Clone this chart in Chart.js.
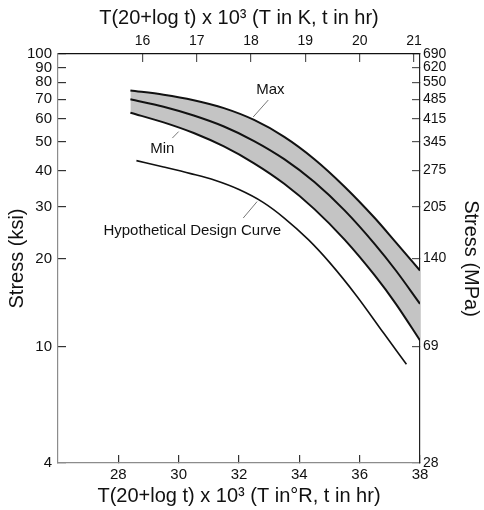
<!DOCTYPE html>
<html>
<head>
<meta charset="utf-8">
<script src="https://cdn.jsdelivr.net/npm/chart.js@4.4.1/dist/chart.umd.min.js"></script>
<style>
  html, body { margin: 0; padding: 0; background: #fff; }
  #wrap { width: 484px; height: 510px; }
</style>
</head>
<body>
<div id="wrap"><canvas id="chart" width="484" height="510"></canvas></div>
<script>
// Larson-Miller parameter, T(20+log t) x 10^3, T in deg R
const bandX = [28.4, 29.5, 30.5, 31.5, 32.5, 33.5, 34.5, 35.5, 36.5, 37.2, 38];
const maxKsi = [75, 72.6, 69.5, 65.3, 59.5, 52.1, 43.7, 35.2, 27.5, 22.7, 18.2];
const midKsi = [70, 66, 61.6, 56.5, 50.4, 43.7, 36.5, 29.2, 22.4, 18.2, 14.0];
const minKsi = [63, 58.4, 53.7, 48.3, 42.3, 36.0, 29.5, 23.2, 17.5, 14.0, 10.5];

const designX = [28.6, 29.5, 30.4, 31.2, 32.0, 32.8, 33.5, 34.3, 35.0, 35.9, 36.8, 37.55];
const designKsi = [43.2, 41.1, 39.0, 37.0, 34.4, 31.1, 27.5, 23.2, 19.4, 14.9, 11.1, 8.7];

const bottomTicks = [28, 30, 32, 34, 36, 38];
const topTicks = [16, 17, 18, 19, 20, 21];
const ksiTicks = [4, 10, 20, 30, 40, 50, 60, 70, 80, 90, 100];
const mpaLabels = ['28', '69', '140', '205', '275', '345', '415', '485', '550', '620', '690'];

// callout labels and their leader lines, in data units
const notes = [
  {text: 'Max', x: 33.04, y: 75.3},
  {text: 'Min', x: 29.46, y: 47.3},
  {text: 'Hypothetical Design Curve', x: 30.45, y: 24.8}
];
const leaders = [
  [[32.97, 69.6], [32.47, 60.9]],
  [[29.79, 51.6], [30.0, 54.3]],
  [[32.14, 27.5], [32.6, 31.3]]
];

const FONT = "'Liberation Sans', Arial, sans-serif";
const pts = (xs, ys) => xs.map((x, i) => ({x: x, y: ys[i]}));

const curve = (data, extra) => Object.assign({
  data: data,
  showLine: true,
  borderColor: '#111',
  borderWidth: 2,
  pointRadius: 0,
  cubicInterpolationMode: 'monotone',
  fill: false
}, extra);

const datasets = [
  curve(pts(bandX, maxKsi)),
  curve(pts(bandX, minKsi), {fill: '-1', backgroundColor: '#c4c4c4'}),
  curve(pts(bandX, midKsi)),
  curve(pts(designX, designKsi), {borderWidth: 1.6})
];
leaders.forEach(l => {
  datasets.push({
    data: l.map(p => ({x: p[0], y: p[1]})),
    showLine: true,
    borderColor: '#777',
    borderWidth: 1,
    pointRadius: 0,
    fill: false
  });
});

const notesPlugin = {
  id: 'notes',
  afterDatasetsDraw(chart) {
    const {ctx, scales} = chart;
    ctx.save();
    ctx.font = '15px ' + FONT;
    ctx.fillStyle = '#111';
    ctx.textAlign = 'center';
    ctx.textBaseline = 'middle';
    notes.forEach(n => {
      ctx.fillText(n.text, scales.x.getPixelForValue(n.x), scales.y.getPixelForValue(n.y));
    });
    ctx.restore();
  }
};

const setTicks = vals => scale => { scale.ticks = vals.map(v => ({value: v})); };
const inTicks = color => ({drawOnChartArea: false, drawTicks: true, tickLength: -8, color: color, lineWidth: 1.2});

new Chart(document.getElementById('chart').getContext('2d'), {
  type: 'scatter',
  data: {datasets: datasets},
  plugins: [notesPlugin],
  options: {
    responsive: false,
    animation: false,
    layout: {padding: 0},
    plugins: {
      legend: {display: false},
      tooltip: {enabled: false},
      filler: {drawTime: 'beforeDatasetsDraw'}
    },
    scales: {
      x: {
        type: 'linear',
        position: 'bottom',
        min: 26,
        max: 38,
        afterBuildTicks: setTicks(bottomTicks),
        afterFit: s => { s.height = 47; },
        grid: inTicks('#333'),
        border: {color: '#8c8c8c', width: 1.2},
        ticks: {color: '#111', font: {family: FONT, size: 15}, padding: 11, maxRotation: 0},
        title: {display: true, text: 'T(20+log t) x 10\u00b3 (T in\u00b0R, t in hr)', color: '#111',
                font: {family: FONT, size: 20}, padding: {top: 0, bottom: 2}}
      },
      xTop: {
        type: 'linear',
        position: 'top',
        min: 26 / 1.8,
        max: 38 / 1.8,
        afterBuildTicks: setTicks(topTicks),
        afterFit: s => { s.height = 54; },
        grid: inTicks('#555'),
        border: {color: '#111', width: 1.2},
        ticks: {color: '#111', font: {family: FONT, size: 14}, padding: 12, maxRotation: 0},
        title: {display: true, text: 'T(20+log t) x 10\u00b3 (T in K, t in hr)', color: '#111',
                font: {family: FONT, size: 20}, padding: {top: 6, bottom: 0}}
      },
      y: {
        type: 'logarithmic',
        position: 'left',
        min: 4,
        max: 100,
        afterBuildTicks: setTicks(ksiTicks),
        afterFit: s => { s.width = 58; },
        grid: inTicks('#333'),
        border: {color: '#8c8c8c', width: 1.2},
        ticks: {color: '#111', font: {family: FONT, size: 15}, padding: 14, callback: v => String(v)},
        title: {display: true, text: 'Stress (ksi)', color: '#111',
                font: {family: FONT, size: 20}, padding: {top: 5, bottom: 0}}
      },
      yRight: {
        type: 'logarithmic',
        position: 'right',
        min: 4,
        max: 100,
        afterBuildTicks: setTicks(ksiTicks),
        afterFit: s => { s.width = 64; },
        grid: inTicks('#555'),
        border: {color: '#222', width: 1.2},
        ticks: {color: '#111', font: {family: FONT, size: 14}, padding: 11,
                callback: v => mpaLabels[ksiTicks.indexOf(v)]},
        title: {display: true, text: 'Stress (MPa)', color: '#111',
                font: {family: FONT, size: 20}, padding: {top: 1, bottom: 0}}
      }
    }
  }
});
</script>
</body>
</html>
